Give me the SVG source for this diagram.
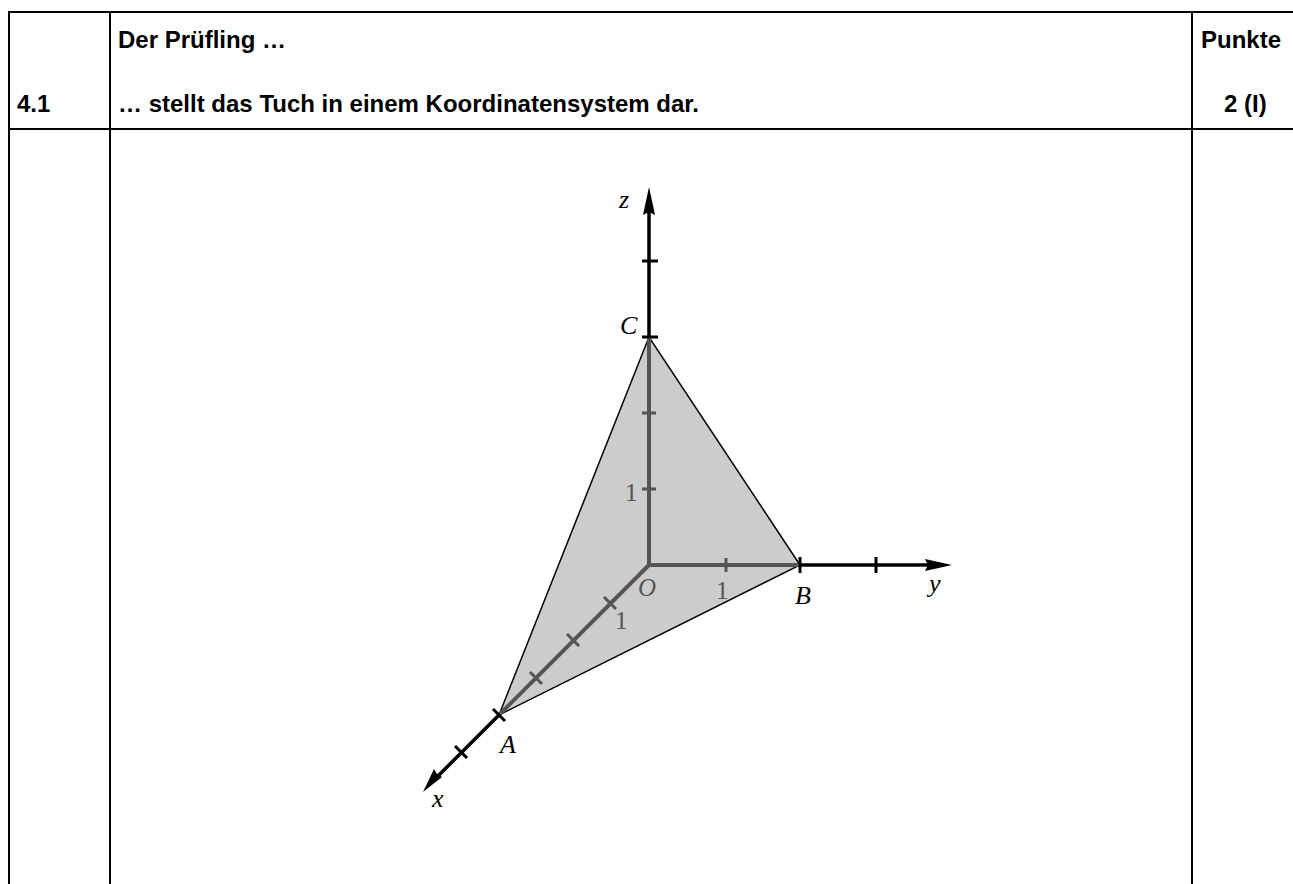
<svg xmlns="http://www.w3.org/2000/svg" width="1293" height="884" viewBox="0 0 1293 884">
<style>
.hd{font-family:"Liberation Sans",Arial,sans-serif;font-weight:bold;font-size:24px;fill:#000}
.lb{font-family:"Liberation Serif","Times New Roman",serif;font-style:italic;font-size:26px;fill:#000}
.gl{font-family:"Liberation Serif","Times New Roman",serif;font-size:25px;fill:#555}
.gi{font-family:"Liberation Serif","Times New Roman",serif;font-style:italic;font-size:25px;fill:#555}
.bd{stroke:#000;stroke-width:2;fill:none}
.ax{stroke:#000;stroke-width:3.5;fill:none}
.ag{stroke:#555;stroke-width:4;fill:none}
.tk{stroke:#000;stroke-width:3;fill:none}
.tg{stroke:#555;stroke-width:3;fill:none}
</style>
<rect width="1293" height="884" fill="#fff"/>
<g id="table">
<line class="bd" x1="9" y1="12" x2="1293" y2="12"/>
<line class="bd" x1="9" y1="129" x2="1293" y2="129"/>
<line class="bd" x1="9" y1="11" x2="9" y2="884"/>
<line class="bd" x1="110" y1="11" x2="110" y2="884"/>
<line class="bd" x1="1192" y1="11" x2="1192" y2="884"/>
<text class="hd" x="118" y="48">Der Prüfling …</text>
<text class="hd" x="17" y="112">4.1</text>
<text class="hd" x="118" y="112">… stellt das Tuch in einem Koordinatensystem dar.</text>
<text class="hd" x="1201" y="48">Punkte</text>
<text class="hd" x="1224" y="112">2 (I)</text>
</g>
<g id="triangle">
<polygon points="499,715 800,565 649,337" fill="#cccccc" stroke="#000" stroke-width="1.5"/>
</g>
<g id="connectors">
<line class="ag" x1="649" y1="565" x2="499" y2="715"/>
<line class="ag" x1="649" y1="565" x2="800" y2="565"/>
<line class="ag" x1="649" y1="565" x2="649" y2="337"/>
<line class="ax" x1="499" y1="715" x2="435" y2="779"/>
<line class="ax" x1="800" y1="565" x2="930" y2="565"/>
<line class="ax" x1="649" y1="337" x2="649" y2="208"/>
<polygon points="649,187 655,215 649,212 643,215" fill="#000"/>
<polygon points="952,565 925,559 928,565 925,571" fill="#000"/>
<polygon points="423,792 434,769 437,774 442,777" fill="#000"/>
<line class="tk" x1="642" y1="261" x2="658" y2="261"/>
<line class="tk" x1="642" y1="337" x2="658" y2="337"/>
<line class="tg" x1="642" y1="413" x2="656" y2="413"/>
<line class="tg" x1="642" y1="489" x2="656" y2="489"/>
<line class="tg" x1="726" y1="558" x2="726" y2="572"/>
<line class="tk" x1="800" y1="557" x2="800" y2="573"/>
<line class="tk" x1="876" y1="557" x2="876" y2="573"/>
<line class="tg" x1="604" y1="597" x2="616" y2="609"/>
<line class="tg" x1="567" y1="634" x2="579" y2="646"/>
<line class="tg" x1="530" y1="672" x2="542" y2="684"/>
<line class="tk" x1="493" y1="709" x2="505" y2="721"/>
<line class="tk" x1="455" y1="746" x2="467" y2="758"/>
</g>
<g id="labels">
<text class="lb" x="619" y="208">z</text>
<text class="lb" x="620" y="334">C</text>
<text class="lb" x="795" y="604">B</text>
<text class="lb" x="500" y="753">A</text>
<text class="lb" x="929" y="592">y</text>
<text class="lb" x="432" y="807">x</text>
<text class="gi" x="638" y="596">O</text>
<text class="gl" x="716" y="599">1</text>
<text class="gl" x="625" y="501">1</text>
<text class="gl" x="615" y="629">1</text>
</g>
</svg>
